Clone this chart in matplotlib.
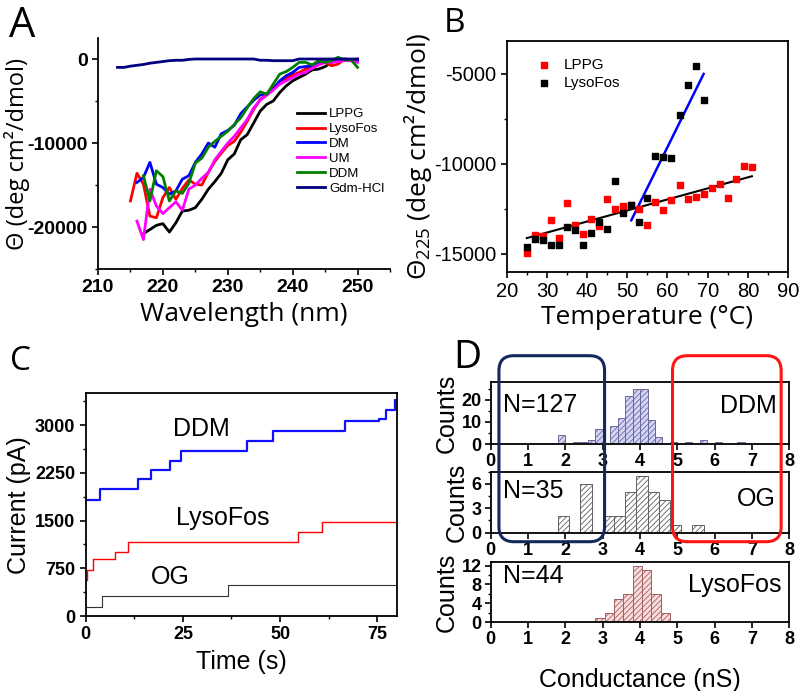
import numpy as np
import matplotlib
matplotlib.use('Agg')
import matplotlib.pyplot as plt
from matplotlib.ticker import MultipleLocator
from matplotlib.patches import FancyBboxPatch
from matplotlib.transforms import blended_transform_factory

plt.rcParams['font.family'] = ['Liberation Sans', 'DejaVu Sans']
plt.rcParams['mathtext.fontset'] = 'custom'
plt.rcParams['mathtext.rm'] = 'Open Sans'
plt.rcParams['axes.unicode_minus'] = False
plt.rcParams['hatch.linewidth'] = 0.6
plt.rcParams['axes.linewidth'] = 1.3
plt.rcParams['xtick.major.width'] = 1.2
plt.rcParams['ytick.major.width'] = 1.2
plt.rcParams['xtick.minor.width'] = 1.0
plt.rcParams['ytick.minor.width'] = 1.0
plt.rcParams['xtick.major.size'] = 4.5
plt.rcParams['ytick.major.size'] = 4.5
plt.rcParams['xtick.minor.size'] = 2.5
plt.rcParams['ytick.minor.size'] = 2.5

# ---------------- panel A: CD spectra ----------------
wl_gdm = np.arange(213, 251)
gdm = [-1000, -1000, -850, -750, -650, -500, -400, -300, -200, -150,
       -150, -50, 0, 0, 0, 0, 0, 0, 0, 0,
       0, 0, -150, -150, -200, -200, -200, -200, 0, 0,
       0, 0, 0, 0, 0, 0, 0, 0]
wl_lppg = np.arange(217, 251)
lppg = [-20800, -20300, -19800, -19600, -20600, -19500, -18100, -18000, -17700, -16700,
        -15500, -14600, -13600, -12000, -11300, -9600, -9000, -7600, -6200, -5400,
        -5000, -4000, -3200, -2600, -2200, -1800, -1300, -1200, -900, -400,
        -200, -100, -100, -100]
wl_lyso = np.arange(215, 251)
lyso = [-16900, -13600, -14900, -18700, -18900, -16500, -15300, -16700, -15400, -14400,
        -14900, -15000, -13500, -12200, -11200, -10300, -9800, -8700, -7400, -6000,
        -4800, -4300, -3400, -2800, -2300, -1900, -1600, -1200, -900, -600,
        -400, -800, -600, 0, -200, 0]
wl_dm = np.arange(216, 251)
dm = [-14700, -14100, -12300, -14900, -15300, -16100, -15700, -14300, -13900, -12300,
      -11300, -10000, -10500, -8900, -8500, -7900, -6500, -5700, -4900, -4300,
      -4100, -3600, -2600, -2000, -1600, -1000, -900, -800, -400, -300,
      -200, -100, 0, -100, -200]
wl_um = np.arange(216, 251)
um = [-19300, -21500, -15500, -17500, -18400, -17700, -17000, -18000, -15500, -15000,
      -14200, -13500, -12000, -11000, -10000, -9200, -8200, -7200, -5800, -4900,
      -4300, -3700, -3000, -2600, -2200, -1800, -1600, -1100, -700, -400,
      -400, -300, -200, -200, -400]
wl_ddm = np.arange(217, 251)
ddm = [-13900, -16900, -13300, -14000, -16900, -15700, -16000, -14800, -12400, -11800,
       -10500, -9800, -9200, -8600, -7800, -7000, -5800, -4700, -3900, -4200,
       -3000, -1800, -1500, -1000, -400, -400, -700, -200, -400, -200,
       200, -100, -100, -1000]

# ---------------- panel B: thermal melts ----------------
temp_lppg = np.arange(25, 82, 2)
theta_lppg = [-14960, -13980, -14030, -13140, -14110, -12170, -13420, -13920, -13090, -13480,
              -11930, -12530, -12360, -12300, -12490, -13400, -12120, -12550, -12030, -11190,
              -11970, -11840, -11650, -11340, -11130, -11880, -10820, -10130, -10200]
temp_lyso = np.arange(25, 70, 2)
theta_lyso = [-14630, -14160, -14260, -14500, -14500, -13510, -13660, -14500, -13850, -13230,
              -13610, -10970, -12710, -12290, -13230, -11880, -9550, -9610, -9700, -7290,
              -5610, -4550, -6450]
fit_black_t = [25, 81]
fit_black_v = [-14130, -10690]
fit_blue_t = [51, 69]
fit_blue_v = [-13140, -5000]

# ---------------- panel C: current traces ----------------
t_ddm = [0, 3.7, 13.5, 16.7, 21.8, 24.6, 41.5, 48.3, 66.7, 75.4, 77.3, 79.6, 80]
i_ddm = [1830, 2000, 2150, 2290, 2440, 2600, 2750, 2910, 3060, 3090, 3240, 3400, 3400]
t_lyso = [0, 0.3, 1.8, 7.5, 10.9, 54.7, 60.9, 80]
i_lyso = [560, 720, 890, 1010, 1160, 1320, 1475, 1475]
t_og = [0, 4.1, 36.7, 80]
i_og = [140, 310, 480, 480]

# ---------------- panel D: conductance histograms ----------------
ddm_left = [1.8, 2.2, 2.4, 2.6, 2.8, 3.2, 3.4, 3.6, 3.8, 4.0, 4.2, 4.4, 4.8, 5.2, 5.6, 6.0, 6.6]
ddm_counts = [4, 1, 1, 2, 7, 8, 12, 22, 25, 25, 11, 3, 1, 1, 2, 1, 1]
og_left = [1.8, 2.4, 3.0, 3.3, 3.6, 3.9, 4.2, 4.5, 4.8, 5.4]
og_counts = [2, 6, 2, 2, 5, 7, 5, 4, 1, 1]
lyso_left = [2.8, 3.05, 3.3, 3.55, 3.8, 4.05, 4.3, 4.55]
lyso_counts = [1, 2, 5, 6, 12, 11, 6, 2]

fig = plt.figure(figsize=(8, 6.91), dpi=100)

calibri = 'Open Sans'
bold_axes = []

# ---- A ----
axA = fig.add_axes([0.1225, 0.6107, 0.365, 0.3343])
for x, y, c, lab in [(wl_lppg, lppg, 'black', 'LPPG'),
                     (wl_lyso, lyso, '#ff0000', 'LysoFos'),
                     (wl_dm, dm, '#0000ff', 'DM'),
                     (wl_um, um, '#ff00ff', 'UM'),
                     (wl_ddm, ddm, '#008000', 'DDM'),
                     (wl_gdm, gdm, '#000080', 'Gdm-HCl')]:
    axA.plot(x, y, color=c, lw=2, label=lab)
axA.set_xlim(210, 255)
axA.set_ylim(-25000, 2500)
axA.spines['top'].set_visible(False)
axA.spines['right'].set_visible(False)
axA.xaxis.set_major_locator(MultipleLocator(10))
axA.xaxis.set_minor_locator(MultipleLocator(5))
axA.yaxis.set_major_locator(MultipleLocator(10000))
axA.yaxis.set_minor_locator(MultipleLocator(5000))
axA.tick_params(which='both', labelsize=14, pad=3)
bold_axes.append(axA)
axA.set_xlabel('Wavelength (nm)', family=calibri, fontsize=19, labelpad=4)
axA.set_ylabel('Θ (deg cm²/dmol)', family=calibri, fontsize=17)
axA.yaxis.set_label_coords(-0.232, 0.5)
axA.legend(loc='upper left', bbox_to_anchor=(0.66, 0.725), frameon=False, fontsize=9.5,
           handlelength=2.1, labelspacing=0.2, handletextpad=0.3, borderpad=0)

# ---- B ----
axB = fig.add_axes([0.6334, 0.6068, 0.3516, 0.3343])
axB.scatter(temp_lppg, theta_lppg, marker='s', s=22, color='#ff0000', label='LPPG', zorder=3)
axB.scatter(temp_lyso, theta_lyso, marker='s', s=22, color='black', label='LysoFos', zorder=3)
axB.plot(fit_black_t, fit_black_v, color='black', lw=1.5)
axB.plot(fit_blue_t, fit_blue_v, color='#0000ff', lw=1.8)
axB.set_xlim(20, 90)
axB.set_ylim(-16000, -3150)
axB.xaxis.set_major_locator(MultipleLocator(10))
axB.xaxis.set_minor_locator(MultipleLocator(5))
axB.yaxis.set_major_locator(MultipleLocator(5000))
axB.yaxis.set_minor_locator(MultipleLocator(2500))
axB.tick_params(which='both', labelsize=14.5, pad=3)
axB.set_xlabel('Temperature (°C)', family=calibri, fontsize=19, labelpad=3)
axB.set_ylabel('Θ$\\mathregular{_{225}}$ (deg cm²/dmol)', family=calibri, fontsize=19, labelpad=0)
axB.legend(loc='upper left', bbox_to_anchor=(0.04, 0.97), frameon=False, fontsize=11,
           handletextpad=0.3, labelspacing=0.25, borderpad=0.2, scatterpoints=1)

# ---- C ----
axC = fig.add_axes([0.1071, 0.1085, 0.3888, 0.3223])
axC.step(t_ddm, i_ddm, where='post', color='#1010ff', lw=1.6)
axC.step(t_lyso, i_lyso, where='post', color='#ff0000', lw=1.0)
axC.step(t_og, i_og, where='post', color='#333333', lw=0.8)
axC.set_xlim(0, 80)
axC.set_ylim(0, 3500)
axC.xaxis.set_major_locator(MultipleLocator(25))
axC.xaxis.set_minor_locator(MultipleLocator(12.5))
axC.yaxis.set_major_locator(MultipleLocator(750))
axC.yaxis.set_minor_locator(MultipleLocator(375))
axC.tick_params(which='both', labelsize=13, pad=3)
bold_axes.append(axC)
axC.text(29.7, 2935, 'DDM', fontsize=18, ha='center', va='center')
axC.text(35.3, 1536, 'LysoFos', fontsize=18, ha='center', va='center')
axC.text(21.8, 618, 'OG', fontsize=18, ha='center', va='center')
axC.set_xlabel('Time (s)', fontsize=18, labelpad=5)
axC.set_ylabel('Current (pA)', fontsize=18, labelpad=3)

# ---- D ----
d_specs = [
    ([0.6134, 0.3574, 0.3733, 0.0893], ddm_left, ddm_counts, 0.2, '#d4d4f8', '#6a6a9a',
     28, 10, 5, 'N=127', 0.627, 'DDM', 0.959, 0.62),
    ([0.6134, 0.2291, 0.3733, 0.0883], og_left, og_counts, 0.3, 'white', '#606060',
     7.5, 3, 1.5, 'N=35', 0.689, 'OG', 0.955, 0.557),
    ([0.6134, 0.0994, 0.3733, 0.0877], lyso_left, lyso_counts, 0.25, '#fadcdc', '#a06060',
     12.8, 4, 2, 'N=44', 0.764, 'LysoFos', 0.974, 0.615),
]
d_axes = []
for rect, left, counts, w, fc, ec, ytop, ymaj, ymin, ntxt, ny, name, nx2, ny2 in d_specs:
    ax = fig.add_axes(rect)
    ax.bar(left, counts, width=w, align='edge', color=fc, edgecolor=ec, hatch='//////', lw=0.7)
    ax.set_xlim(0, 8)
    ax.set_ylim(0, ytop)
    ax.xaxis.set_major_locator(MultipleLocator(1))
    ax.yaxis.set_major_locator(MultipleLocator(ymaj))
    ax.yaxis.set_minor_locator(MultipleLocator(ymin))
    ax.tick_params(which='both', labelsize=13, pad=2)
    ax.text(0.04, ny, ntxt, transform=ax.transAxes, fontsize=18, ha='left', va='center')
    ax.text(nx2, ny2, name, transform=ax.transAxes, fontsize=18, ha='right', va='center')
    ax.set_ylabel('Counts', fontsize=18, labelpad=2)
    bold_axes.append(ax)
    d_axes.append(ax)
d_axes[-1].set_xlabel('Conductance (nS)', fontsize=18, labelpad=14)

# highlight boxes spanning the DDM and OG histograms
trans = blended_transform_factory(d_axes[0].transData, fig.transFigure)
for x0, x1, col in [(0.22, 3.05, '#14285e'), (4.87, 7.78, '#ff1414')]:
    box = FancyBboxPatch((x0, 1 - 541.7 / 691), x1 - x0, (541.7 - 355.7) / 691,
                         boxstyle='round,pad=0,rounding_size=0.4', mutation_aspect=0.054,
                         transform=trans, fill=False, edgecolor=col, lw=2.2, zorder=10,
                         clip_on=False)
    fig.add_artist(box)

# panel letters
for x, y, s, fs in [(0.011, 0.9465, 'A', 30), (0.555, 0.9537, 'B', 24),
                    (0.013, 0.4645, 'C', 24), (0.567, 0.4675, 'D', 28)]:
    fig.text(x, y, s, family=calibri, fontsize=fs, va='baseline', ha='left')

fig.canvas.draw()
for ax in bold_axes:
    plt.setp(ax.get_xticklabels() + ax.get_yticklabels(), fontweight='bold')

fig.savefig('out.png', dpi=100)
